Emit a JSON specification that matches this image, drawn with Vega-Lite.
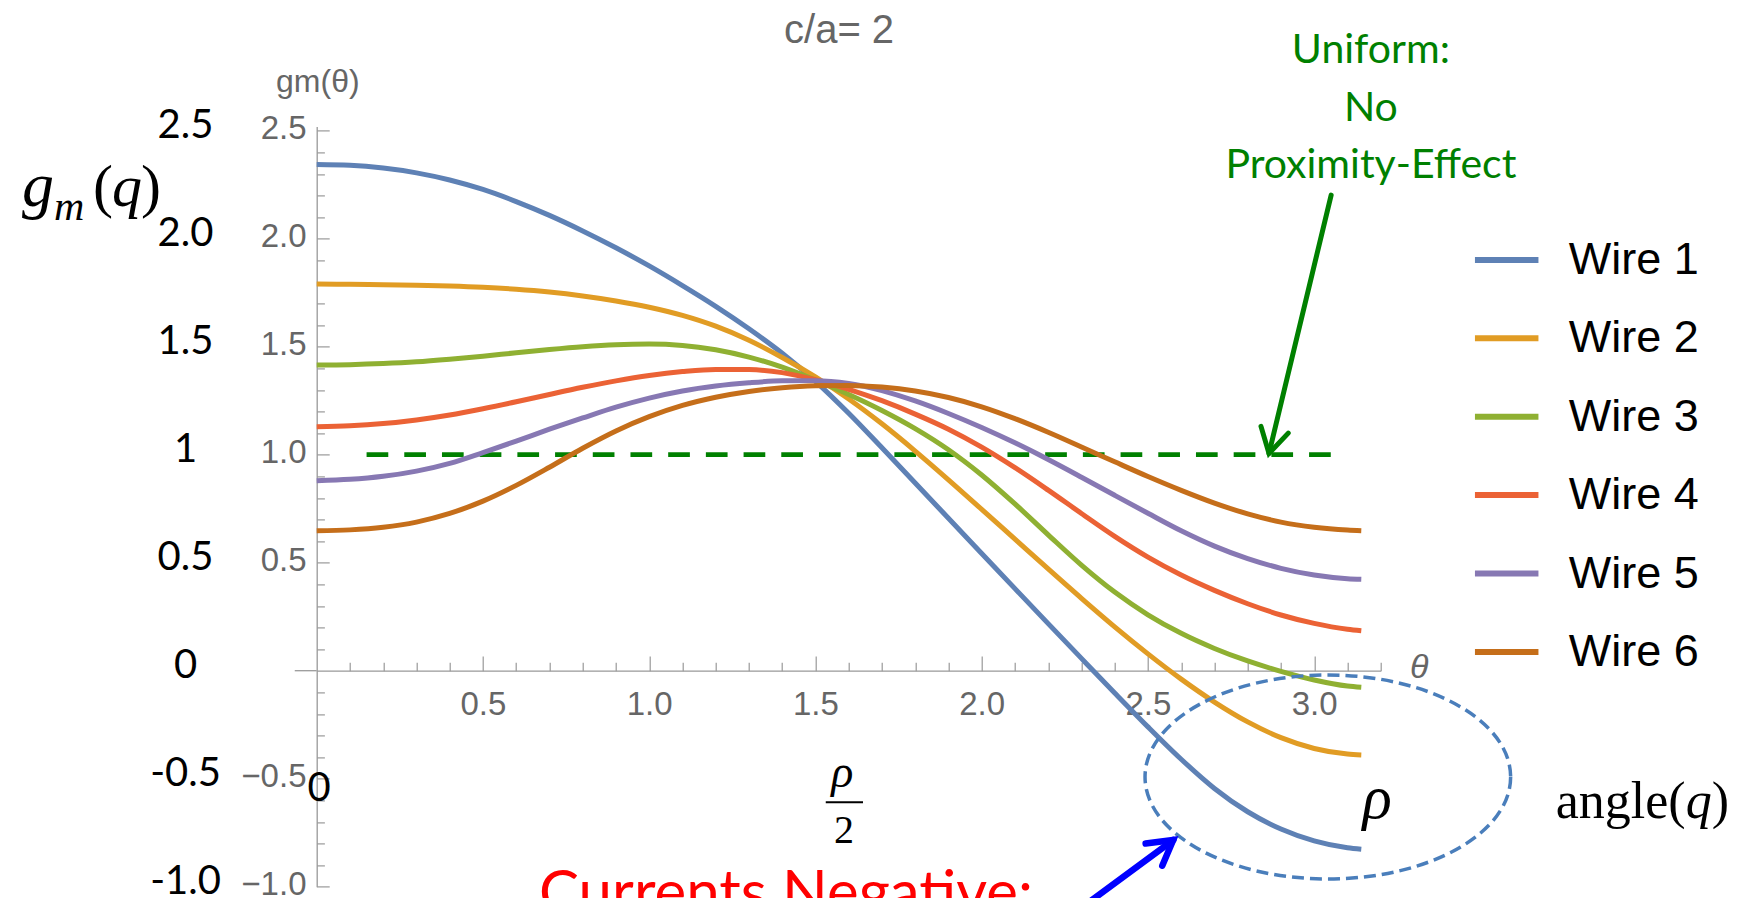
{
  "$schema": "https://vega.github.io/schema/vega-lite/v6.json",
  "width": 1064,
  "height": 760.3,
  "autosize": {"type": "none"},
  "padding": {"left": 316.7, "top": 126.4, "right": 361.3, "bottom": 11.3},
  "background": "white",
  "config": {"view": {"stroke": null}, "font": "Liberation Sans"},
  "datasets": {
    "curves": [
      {"wire":"Wire 1","x":0,"y":2.344},{"wire":"Wire 1","x":0.1,"y":2.340},{"wire":"Wire 1","x":0.2,"y":2.327},{"wire":"Wire 1","x":0.3,"y":2.305},{"wire":"Wire 1","x":0.4,"y":2.272},{"wire":"Wire 1","x":0.5,"y":2.228},{"wire":"Wire 1","x":0.6,"y":2.172},{"wire":"Wire 1","x":0.7,"y":2.108},{"wire":"Wire 1","x":0.8,"y":2.036},{"wire":"Wire 1","x":0.9,"y":1.958},{"wire":"Wire 1","x":1.0,"y":1.874},{"wire":"Wire 1","x":1.1,"y":1.783},{"wire":"Wire 1","x":1.2,"y":1.687},{"wire":"Wire 1","x":1.3,"y":1.583},{"wire":"Wire 1","x":1.4,"y":1.470},{"wire":"Wire 1","x":1.5,"y":1.340},{"wire":"Wire 1","x":1.6,"y":1.192},{"wire":"Wire 1","x":1.7,"y":1.032},{"wire":"Wire 1","x":1.8,"y":0.869},{"wire":"Wire 1","x":1.9,"y":0.706},{"wire":"Wire 1","x":2.0,"y":0.543},{"wire":"Wire 1","x":2.1,"y":0.380},{"wire":"Wire 1","x":2.2,"y":0.218},{"wire":"Wire 1","x":2.3,"y":0.057},{"wire":"Wire 1","x":2.4,"y":-0.103},{"wire":"Wire 1","x":2.5,"y":-0.260},{"wire":"Wire 1","x":2.6,"y":-0.410},{"wire":"Wire 1","x":2.7,"y":-0.545},{"wire":"Wire 1","x":2.8,"y":-0.653},{"wire":"Wire 1","x":2.9,"y":-0.733},{"wire":"Wire 1","x":3.0,"y":-0.788},{"wire":"Wire 1","x":3.1,"y":-0.820},{"wire":"Wire 1","x":3.1416,"y":-0.827},
      {"wire":"Wire 2","x":0,"y":1.790},{"wire":"Wire 2","x":0.1,"y":1.789},{"wire":"Wire 2","x":0.2,"y":1.787},{"wire":"Wire 2","x":0.3,"y":1.785},{"wire":"Wire 2","x":0.4,"y":1.781},{"wire":"Wire 2","x":0.5,"y":1.775},{"wire":"Wire 2","x":0.6,"y":1.766},{"wire":"Wire 2","x":0.7,"y":1.753},{"wire":"Wire 2","x":0.8,"y":1.735},{"wire":"Wire 2","x":0.9,"y":1.712},{"wire":"Wire 2","x":1.0,"y":1.683},{"wire":"Wire 2","x":1.1,"y":1.645},{"wire":"Wire 2","x":1.2,"y":1.595},{"wire":"Wire 2","x":1.3,"y":1.530},{"wire":"Wire 2","x":1.4,"y":1.450},{"wire":"Wire 2","x":1.5,"y":1.360},{"wire":"Wire 2","x":1.6,"y":1.258},{"wire":"Wire 2","x":1.7,"y":1.143},{"wire":"Wire 2","x":1.8,"y":1.017},{"wire":"Wire 2","x":1.9,"y":0.884},{"wire":"Wire 2","x":2.0,"y":0.747},{"wire":"Wire 2","x":2.1,"y":0.609},{"wire":"Wire 2","x":2.2,"y":0.471},{"wire":"Wire 2","x":2.3,"y":0.335},{"wire":"Wire 2","x":2.4,"y":0.203},{"wire":"Wire 2","x":2.5,"y":0.078},{"wire":"Wire 2","x":2.6,"y":-0.039},{"wire":"Wire 2","x":2.7,"y":-0.145},{"wire":"Wire 2","x":2.8,"y":-0.237},{"wire":"Wire 2","x":2.9,"y":-0.310},{"wire":"Wire 2","x":3.0,"y":-0.360},{"wire":"Wire 2","x":3.1,"y":-0.386},{"wire":"Wire 2","x":3.1416,"y":-0.390},
      {"wire":"Wire 3","x":0,"y":1.415},{"wire":"Wire 3","x":0.1,"y":1.417},{"wire":"Wire 3","x":0.2,"y":1.422},{"wire":"Wire 3","x":0.3,"y":1.430},{"wire":"Wire 3","x":0.4,"y":1.442},{"wire":"Wire 3","x":0.5,"y":1.456},{"wire":"Wire 3","x":0.6,"y":1.472},{"wire":"Wire 3","x":0.7,"y":1.487},{"wire":"Wire 3","x":0.8,"y":1.500},{"wire":"Wire 3","x":0.9,"y":1.509},{"wire":"Wire 3","x":1.0,"y":1.512},{"wire":"Wire 3","x":1.1,"y":1.506},{"wire":"Wire 3","x":1.2,"y":1.486},{"wire":"Wire 3","x":1.3,"y":1.452},{"wire":"Wire 3","x":1.4,"y":1.405},{"wire":"Wire 3","x":1.5,"y":1.345},{"wire":"Wire 3","x":1.6,"y":1.279},{"wire":"Wire 3","x":1.7,"y":1.205},{"wire":"Wire 3","x":1.8,"y":1.121},{"wire":"Wire 3","x":1.9,"y":1.023},{"wire":"Wire 3","x":2.0,"y":0.906},{"wire":"Wire 3","x":2.1,"y":0.772},{"wire":"Wire 3","x":2.2,"y":0.629},{"wire":"Wire 3","x":2.3,"y":0.489},{"wire":"Wire 3","x":2.4,"y":0.364},{"wire":"Wire 3","x":2.5,"y":0.259},{"wire":"Wire 3","x":2.6,"y":0.173},{"wire":"Wire 3","x":2.7,"y":0.103},{"wire":"Wire 3","x":2.8,"y":0.045},{"wire":"Wire 3","x":2.9,"y":-0.003},{"wire":"Wire 3","x":3.0,"y":-0.043},{"wire":"Wire 3","x":3.1,"y":-0.071},{"wire":"Wire 3","x":3.1416,"y":-0.077},
      {"wire":"Wire 4","x":0,"y":1.130},{"wire":"Wire 4","x":0.1,"y":1.134},{"wire":"Wire 4","x":0.2,"y":1.144},{"wire":"Wire 4","x":0.3,"y":1.161},{"wire":"Wire 4","x":0.4,"y":1.184},{"wire":"Wire 4","x":0.5,"y":1.213},{"wire":"Wire 4","x":0.6,"y":1.245},{"wire":"Wire 4","x":0.7,"y":1.279},{"wire":"Wire 4","x":0.8,"y":1.312},{"wire":"Wire 4","x":0.9,"y":1.342},{"wire":"Wire 4","x":1.0,"y":1.367},{"wire":"Wire 4","x":1.1,"y":1.385},{"wire":"Wire 4","x":1.2,"y":1.395},{"wire":"Wire 4","x":1.3,"y":1.394},{"wire":"Wire 4","x":1.4,"y":1.380},{"wire":"Wire 4","x":1.5,"y":1.347},{"wire":"Wire 4","x":1.6,"y":1.303},{"wire":"Wire 4","x":1.7,"y":1.250},{"wire":"Wire 4","x":1.8,"y":1.188},{"wire":"Wire 4","x":1.9,"y":1.118},{"wire":"Wire 4","x":2.0,"y":1.035},{"wire":"Wire 4","x":2.1,"y":0.940},{"wire":"Wire 4","x":2.2,"y":0.836},{"wire":"Wire 4","x":2.3,"y":0.728},{"wire":"Wire 4","x":2.4,"y":0.622},{"wire":"Wire 4","x":2.5,"y":0.526},{"wire":"Wire 4","x":2.6,"y":0.443},{"wire":"Wire 4","x":2.7,"y":0.372},{"wire":"Wire 4","x":2.8,"y":0.310},{"wire":"Wire 4","x":2.9,"y":0.258},{"wire":"Wire 4","x":3.0,"y":0.219},{"wire":"Wire 4","x":3.1,"y":0.192},{"wire":"Wire 4","x":3.1416,"y":0.185},
      {"wire":"Wire 5","x":0,"y":0.880},{"wire":"Wire 5","x":0.1,"y":0.886},{"wire":"Wire 5","x":0.2,"y":0.900},{"wire":"Wire 5","x":0.3,"y":0.924},{"wire":"Wire 5","x":0.4,"y":0.960},{"wire":"Wire 5","x":0.5,"y":1.010},{"wire":"Wire 5","x":0.6,"y":1.063},{"wire":"Wire 5","x":0.7,"y":1.118},{"wire":"Wire 5","x":0.8,"y":1.170},{"wire":"Wire 5","x":0.9,"y":1.220},{"wire":"Wire 5","x":1.0,"y":1.262},{"wire":"Wire 5","x":1.1,"y":1.295},{"wire":"Wire 5","x":1.2,"y":1.318},{"wire":"Wire 5","x":1.3,"y":1.333},{"wire":"Wire 5","x":1.4,"y":1.342},{"wire":"Wire 5","x":1.5,"y":1.343},{"wire":"Wire 5","x":1.6,"y":1.330},{"wire":"Wire 5","x":1.7,"y":1.297},{"wire":"Wire 5","x":1.8,"y":1.249},{"wire":"Wire 5","x":1.9,"y":1.191},{"wire":"Wire 5","x":2.0,"y":1.126},{"wire":"Wire 5","x":2.1,"y":1.055},{"wire":"Wire 5","x":2.2,"y":0.978},{"wire":"Wire 5","x":2.3,"y":0.896},{"wire":"Wire 5","x":2.4,"y":0.812},{"wire":"Wire 5","x":2.5,"y":0.729},{"wire":"Wire 5","x":2.6,"y":0.648},{"wire":"Wire 5","x":2.7,"y":0.577},{"wire":"Wire 5","x":2.8,"y":0.519},{"wire":"Wire 5","x":2.9,"y":0.474},{"wire":"Wire 5","x":3.0,"y":0.443},{"wire":"Wire 5","x":3.1,"y":0.426},{"wire":"Wire 5","x":3.1416,"y":0.423},
      {"wire":"Wire 6","x":0,"y":0.648},{"wire":"Wire 6","x":0.1,"y":0.652},{"wire":"Wire 6","x":0.2,"y":0.664},{"wire":"Wire 6","x":0.3,"y":0.688},{"wire":"Wire 6","x":0.4,"y":0.728},{"wire":"Wire 6","x":0.5,"y":0.785},{"wire":"Wire 6","x":0.6,"y":0.858},{"wire":"Wire 6","x":0.7,"y":0.942},{"wire":"Wire 6","x":0.8,"y":1.030},{"wire":"Wire 6","x":0.9,"y":1.110},{"wire":"Wire 6","x":1.0,"y":1.176},{"wire":"Wire 6","x":1.1,"y":1.228},{"wire":"Wire 6","x":1.2,"y":1.266},{"wire":"Wire 6","x":1.3,"y":1.293},{"wire":"Wire 6","x":1.4,"y":1.310},{"wire":"Wire 6","x":1.5,"y":1.319},{"wire":"Wire 6","x":1.6,"y":1.321},{"wire":"Wire 6","x":1.7,"y":1.313},{"wire":"Wire 6","x":1.8,"y":1.295},{"wire":"Wire 6","x":1.9,"y":1.265},{"wire":"Wire 6","x":2.0,"y":1.222},{"wire":"Wire 6","x":2.1,"y":1.167},{"wire":"Wire 6","x":2.2,"y":1.104},{"wire":"Wire 6","x":2.3,"y":1.036},{"wire":"Wire 6","x":2.4,"y":0.967},{"wire":"Wire 6","x":2.5,"y":0.899},{"wire":"Wire 6","x":2.6,"y":0.835},{"wire":"Wire 6","x":2.7,"y":0.776},{"wire":"Wire 6","x":2.8,"y":0.726},{"wire":"Wire 6","x":2.9,"y":0.688},{"wire":"Wire 6","x":3.0,"y":0.664},{"wire":"Wire 6","x":3.1,"y":0.651},{"wire":"Wire 6","x":3.1416,"y":0.648}
    ]
  },
  "encoding": {
    "x": {
      "field": "x", "type": "quantitative",
      "scale": {"domain": [0, 3.2], "nice": false, "zero": false},
      "axis": {
        "orient": "bottom", "offset": -216,
        "values": [0.1,0.2,0.3,0.4,0.5,0.6,0.7,0.8,0.9,1.0,1.1,1.2,1.3,1.4,1.5,1.6,1.7,1.8,1.9,2.0,2.1,2.2,2.3,2.4,2.5,2.6,2.7,2.8,2.9,3.0,3.1,3.2],
        "grid": false,
        "domainColor": "#999999", "domainWidth": 1.3,
        "tickColor": "#999999", "tickWidth": 1.2,
        "tickSize": {"condition": {"test": "abs(datum.value*2-round(datum.value*2))<0.001", "value": -14.7}, "value": -8.5},
        "labelExpr": "abs(datum.value*2-round(datum.value*2))<0.001 ? format(datum.value,'.1f') : ''",
        "labelFont": "Liberation Sans", "labelFontSize": 33, "labelColor": "#666666",
        "labelPadding": 32, "labelOverlap": false, "labelFlush": false, "labelBaseline": "top",
        "title": "θ", "titleFont": "Liberation Sans", "titleFontSize": 34, "titleFontStyle": "italic", "titleFontWeight": "normal",
        "titleColor": "#666666", "titleX": 1102, "titleY": -3, "titleAlign": "center", "titleBaseline": "middle", "titleAngle": 0
      }
    },
    "y": {
      "field": "y", "type": "quantitative",
      "scale": {"domain": [-1, 2.52], "nice": false, "zero": false},
      "axis": {
        "orient": "left",
        "values": [-1.0,-0.9,-0.8,-0.7,-0.6,-0.5,-0.4,-0.3,-0.2,-0.1,0.1,0.2,0.3,0.4,0.5,0.6,0.7,0.8,0.9,1.0,1.1,1.2,1.3,1.4,1.5,1.6,1.7,1.8,1.9,2.0,2.1,2.2,2.3,2.4,2.5],
        "grid": false,
        "domainColor": "#999999", "domainWidth": 1.3,
        "tickColor": "#999999", "tickWidth": 1.2,
        "tickSize": {"condition": {"test": "abs(datum.value*2-round(datum.value*2))<0.001", "value": -12.5}, "value": -7.7},
        "labelExpr": "abs(datum.value*2-round(datum.value*2))<0.001 ? format(datum.value,'.1f') : ''",
        "labelFont": "Liberation Sans", "labelFontSize": 33, "labelColor": "#666666",
        "labelPadding": 23.2, "labelOffset": -2, "labelOverlap": false, "labelFlush": false,
        "title": "gm(θ)", "titleFont": "Liberation Sans", "titleFontSize": 32, "titleFontWeight": "normal",
        "titleColor": "#666666", "titleX": 0.6, "titleY": -45.4, "titleAlign": "center", "titleBaseline": "middle", "titleAngle": 0
      }
    }
  },
  "layer": [
    {
      "data": {"values": [{"x": -0.066, "x2": 0, "y": 0}]},
      "mark": {"type": "rule", "stroke": "#999999", "strokeWidth": 1.3},
      "encoding": {"x2": {"field": "x2"}}
    },
    {
      "data": {"values": [{"x": 0.15, "x2": 3.059, "y": 1}]},
      "mark": {"type": "rule", "stroke": "#008000", "strokeWidth": 4.7, "strokeDash": [21.7, 16]},
      "encoding": {"x2": {"field": "x2"}}
    },
    {
      "data": {"name": "curves"},
      "mark": {"type": "line", "strokeWidth": 5, "interpolate": "monotone"},
      "encoding": {
        "color": {
          "field": "wire", "type": "nominal",
          "scale": {"domain": ["Wire 1","Wire 2","Wire 3","Wire 4","Wire 5","Wire 6"], "range": ["#5E81B5","#E19C24","#8FB032","#EB6235","#8778B3","#C56E1A"]},
          "legend": {
            "orient": "none", "legendX": 1155, "legendY": 98.5, "title": null,
            "symbolType": "stroke", "symbolStrokeWidth": 6, "symbolSize": 4032,
            "labelFont": "Liberation Sans", "labelFontSize": 45, "labelColor": "#000000",
            "labelOffset": 27, "rowPadding": 20.4, "padding": 0
          }
        }
      }
    },
    {
      "data": {"values": [{"x": 3.041, "y": -0.492}]},
      "mark": {"type": "point", "shape": "M1,0C1,0.308,0.552,0.558,0,0.558C-0.552,0.558,-1,0.308,-1,0C-1,-0.308,-0.552,-0.558,0,-0.558C0.552,-0.558,1,-0.308,1,0Z", "size": 133663, "filled": false, "stroke": "#4A7EBB", "strokeWidth": 3.5, "strokeDash": [12, 6], "opacity": 1}
    },
    {
      "data": {"values": [{"x": 3.051, "y": 2.202, "x2": 2.864, "y2": 1.006}]},
      "mark": {"type": "rule", "stroke": "#008000", "strokeWidth": 5, "strokeCap": "round"},
      "encoding": {"x2": {"field": "x2"}, "y2": {"field": "y2"}}
    },
    {
      "data": {"values": [{"x": 2.840, "y": 1.131, "k": 0}, {"x": 2.864, "y": 1.006, "k": 1}, {"x": 2.922, "y": 1.100, "k": 2}]},
      "mark": {"type": "line", "stroke": "#008000", "strokeWidth": 5, "strokeCap": "round", "strokeJoin": "miter"},
      "encoding": {"order": {"field": "k"}}
    },
    {
      "data": {"values": [{"x": 2.267, "y": -1.135, "x2": 2.576, "y2": -0.784}]},
      "mark": {"type": "rule", "stroke": "#0000FF", "strokeWidth": 6.5, "strokeCap": "round"},
      "encoding": {"x2": {"field": "x2"}, "y2": {"field": "y2"}}
    },
    {
      "data": {"values": [{"x": 2.493, "y": -0.800, "k": 0}, {"x": 2.576, "y": -0.784, "k": 1}, {"x": 2.543, "y": -0.903, "k": 2}]},
      "mark": {"type": "line", "stroke": "#0000FF", "strokeWidth": 6.5, "strokeCap": "round", "strokeJoin": "miter"},
      "encoding": {"order": {"field": "k"}}
    },
    {
      "data": {"values": [{"x": 1.531, "x2": 1.643, "y": -0.6093}]},
      "mark": {"type": "rule", "stroke": "#000000", "strokeWidth": 2},
      "encoding": {"x2": {"field": "x2"}}
    },
    {
      "data": {"values": [{"x": 1.571, "y": 2.905, "label": "c/a= 2"}]},
      "mark": {"type": "text", "font": "Liberation Sans", "fontSize": 40, "color": "#666666", "align": "center", "baseline": "alphabetic"},
      "encoding": {"text": {"field": "label"}}
    },
    {
      "data": {"values": [
        {"x": -0.3946, "y": 2.5, "label": "2.5"},
        {"x": -0.3946, "y": 2.0, "label": "2.0"},
        {"x": -0.3946, "y": 1.5, "label": "1.5"},
        {"x": -0.3946, "y": 1, "label": "1"},
        {"x": -0.3946, "y": 0.5, "label": "0.5"},
        {"x": -0.3946, "y": 0, "label": "0"},
        {"x": -0.3946, "y": -0.5, "label": "-0.5"},
        {"x": -0.3946, "y": -1.0, "label": "-1.0"}
      ]},
      "mark": {"type": "text", "font": "Lato", "fontSize": 40, "color": "#000000", "align": "center", "baseline": "middle", "dy": -5},
      "encoding": {"text": {"field": "label"}}
    },
    {
      "data": {"values": [{"x": 0.007, "y": -0.546, "label": "0"}]},
      "mark": {"type": "text", "font": "Lato", "fontSize": 40, "color": "#000000", "align": "center", "baseline": "middle"},
      "encoding": {"text": {"field": "label"}}
    },
    {
      "data": {"values": [
        {"x": 3.1705, "y": 2.812, "label": "Uniform:"},
        {"x": 3.1705, "y": 2.546, "label": "No"},
        {"x": 3.1705, "y": 2.280, "label": "Proximity-Effect"}
      ]},
      "mark": {"type": "text", "font": "Lato", "fontSize": 41, "color": "#008000", "align": "center", "baseline": "alphabetic"},
      "encoding": {"text": {"field": "label"}}
    },
    {
      "data": {"values": [{"x": 1.4115, "y": -1.1218, "label": "Currents Negative:"}]},
      "mark": {"type": "text", "font": "Lato", "fontSize": 60, "color": "#FF0000", "align": "center", "baseline": "alphabetic"},
      "encoding": {"text": {"field": "label"}}
    },
    {
      "data": {"values": [{"x": 1.581, "y": -0.538, "label": "ρ"}]},
      "mark": {"type": "text", "font": "Liberation Serif", "fontSize": 46, "fontStyle": "italic", "color": "#000000", "align": "center", "baseline": "alphabetic"},
      "encoding": {"text": {"field": "label"}}
    },
    {
      "data": {"values": [{"x": 1.586, "y": -0.796, "label": "2"}]},
      "mark": {"type": "text", "font": "Liberation Serif", "fontSize": 40, "color": "#000000", "align": "center", "baseline": "alphabetic"},
      "encoding": {"text": {"field": "label"}}
    },
    {
      "data": {"values": [{"x": 3.189, "y": -0.682, "label": "ρ"}]},
      "mark": {"type": "text", "font": "Liberation Serif", "fontSize": 61, "fontStyle": "italic", "color": "#000000", "align": "center", "baseline": "alphabetic"},
      "encoding": {"text": {"field": "label"}}
    },
    {
      "data": {"values": [{"x": 3.7265, "y": -0.683, "label": "angle("}, {"x": 4.1958, "y": -0.683, "label": ")"}]},
      "mark": {"type": "text", "font": "Liberation Serif", "fontSize": 52, "color": "#000000", "align": "left", "baseline": "alphabetic"},
      "encoding": {"text": {"field": "label"}}
    },
    {
      "data": {"values": [{"x": 4.1176, "y": -0.683, "label": "q"}]},
      "mark": {"type": "text", "font": "Liberation Serif", "fontSize": 52, "fontStyle": "italic", "color": "#000000", "align": "left", "baseline": "alphabetic"},
      "encoding": {"text": {"field": "label"}}
    },
    {
      "data": {"values": [{"x": -0.8863, "y": 2.151, "label": "g"}]},
      "mark": {"type": "text", "font": "Liberation Serif", "fontSize": 64, "fontStyle": "italic", "color": "#000000", "align": "left", "baseline": "alphabetic"},
      "encoding": {"text": {"field": "label"}}
    },
    {
      "data": {"values": [{"x": -0.6156, "y": 2.151, "label": "q"}]},
      "mark": {"type": "text", "font": "Liberation Serif", "fontSize": 60, "fontStyle": "italic", "color": "#000000", "align": "left", "baseline": "alphabetic"},
      "encoding": {"text": {"field": "label"}}
    },
    {
      "data": {"values": [{"x": -0.6728, "y": 2.151, "label": "("}, {"x": -0.5284, "y": 2.151, "label": ")"}]},
      "mark": {"type": "text", "font": "Liberation Serif", "fontSize": 60, "color": "#000000", "align": "left", "baseline": "alphabetic"},
      "encoding": {"text": {"field": "label"}}
    },
    {
      "data": {"values": [{"x": -0.790, "y": 2.087, "label": "m"}]},
      "mark": {"type": "text", "font": "Liberation Serif", "fontSize": 42, "fontStyle": "italic", "color": "#000000", "align": "left", "baseline": "alphabetic"},
      "encoding": {"text": {"field": "label"}}
    }
  ]
}
